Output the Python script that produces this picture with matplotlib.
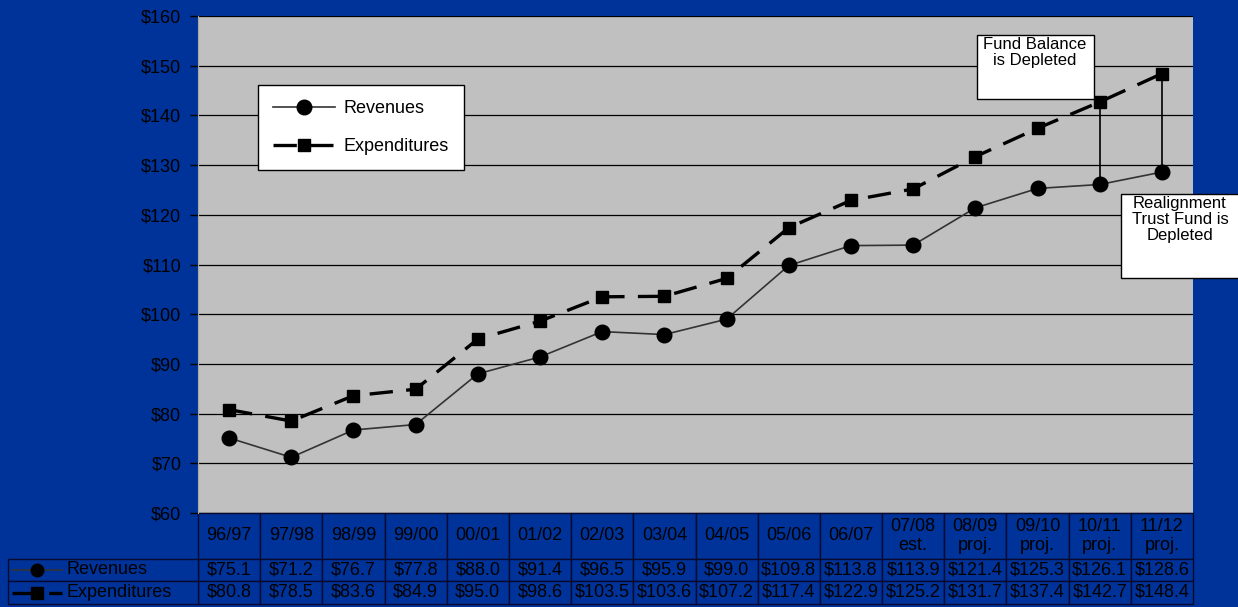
import matplotlib.pyplot as plt
import matplotlib.transforms as mtransforms
from matplotlib.patches import Rectangle
from matplotlib.lines import Line2D

plt.rcParams['font.family'] = ['Liberation Sans', 'DejaVu Sans']

years = ['96/97', '97/98', '98/99', '99/00', '00/01', '01/02', '02/03', '03/04',
         '04/05', '05/06', '06/07', '07/08\nest.', '08/09\nproj.', '09/10\nproj.',
         '10/11\nproj.', '11/12\nproj.']
revenues = [75.1, 71.2, 76.7, 77.8, 88.0, 91.4, 96.5, 95.9, 99.0, 109.8,
            113.8, 113.9, 121.4, 125.3, 126.1, 128.6]
expenditures = [80.8, 78.5, 83.6, 84.9, 95.0, 98.6, 103.5, 103.6, 107.2, 117.4,
                122.9, 125.2, 131.7, 137.4, 142.7, 148.4]
depleted_idx = [14, 15]

BLUE = '#003399'
W, H = 1238, 607
FS = 13
fig = plt.figure(figsize=(W / 100, H / 100), dpi=100, facecolor=BLUE)

ax = fig.add_axes([198 / W, 1 - 513 / H, (1193 - 198) / W, (513 - 16) / H])
ax.set_facecolor('#c0c0c0')

x = list(range(len(years)))
ax.plot(x, revenues, color='#333333', lw=1.2, marker='o', ms=10.5,
        mfc='black', mec='black', label='Revenues', zorder=3)
ax.plot(x, expenditures, color='black', lw=2.4, dashes=(7, 4), marker='s', ms=8,
        mfc='black', mec='black', label='Expenditures', zorder=3)
ax.vlines(depleted_idx, [revenues[i] for i in depleted_idx],
          [expenditures[i] for i in depleted_idx], colors='black', lw=1.2, zorder=2)

ax.set_xlim(-0.5, len(years) - 0.5)
ax.set_ylim(60, 160)
ax.set_yticks(range(60, 161, 10))
ax.set_yticklabels(['$%d' % v for v in range(60, 161, 10)], fontsize=FS)
ax.yaxis.grid(True, color='black', lw=0.9)
ax.set_axisbelow(True)
ax.set_xticks([])
ax.tick_params(axis='y', length=6, width=1, color='black', pad=6)
for s in ['top', 'right', 'bottom']:
    ax.spines[s].set_visible(False)
ax.spines['left'].set_color('#a8a8a8')

leg = ax.legend(loc='upper left', bbox_to_anchor=((258 - 198) / 995, 1 - (85 - 16) / 497),
                fontsize=FS, frameon=True, fancybox=False, edgecolor='black',
                framealpha=1, handlelength=3.4, handletextpad=0.5,
                labelspacing=1.15, borderpad=0.85, borderaxespad=0)
leg.get_frame().set_linewidth(1.0)

# data table below the plot
tr = mtransforms.blended_transform_factory(ax.transData, ax.transAxes)
px = 1 / 497
row_h = [46 * px, 22 * px, 23 * px]
tops = [0, -row_h[0], -row_h[0] - row_h[1]]
u = 1 / (995 / 16)
lab_left = -0.5 - 190 * u

for i, yr in enumerate(years):
    for r in range(3):
        ax.add_patch(Rectangle((i - 0.5, tops[r] - row_h[r]), 1, row_h[r], transform=tr,
                               facecolor=BLUE, edgecolor='#0a0a30', lw=1.0,
                               clip_on=False, zorder=1))
    ax.text(i, tops[0] - row_h[0] / 2, yr, transform=tr, ha='center', va='center',
            fontsize=FS, linespacing=1.2, clip_on=False)
    ax.text(i, tops[1] - row_h[1] / 2, '$%.1f' % revenues[i], transform=tr,
            ha='center', va='center', fontsize=FS, clip_on=False)
    ax.text(i, tops[2] - row_h[2] / 2, '$%.1f' % expenditures[i], transform=tr,
            ha='center', va='center', fontsize=FS, clip_on=False)

for r, (lab, style) in enumerate([('Revenues', 'rev'), ('Expenditures', 'exp')], start=1):
    ax.add_patch(Rectangle((lab_left, tops[r] - row_h[r]), -0.5 - lab_left, row_h[r],
                           transform=tr, facecolor=BLUE, edgecolor='#0a0a30', lw=1.0,
                           clip_on=False, zorder=1))
    yc = tops[r] - row_h[r] / 2
    x0, x1, xm = lab_left + 4 * u, lab_left + 54 * u, lab_left + 29 * u
    if style == 'rev':
        ax.add_line(Line2D([x0, x1], [yc, yc], transform=tr, color='#333333', lw=1.2,
                           clip_on=False))
        ax.add_line(Line2D([xm], [yc], transform=tr, marker='o', ms=9, color='black',
                           clip_on=False))
    else:
        ax.add_line(Line2D([x0, x1], [yc, yc], transform=tr, color='black', lw=2.4,
                           dashes=(7, 4), clip_on=False))
        ax.add_line(Line2D([xm], [yc], transform=tr, marker='s', ms=8, color='black',
                           clip_on=False))
    ax.text(lab_left + 58 * u, yc, lab, transform=tr, ha='left', va='center',
            fontsize=FS, clip_on=False)

# annotation boxes (figure pixel coordinates)
def fig_box(x0, y0, x1, y1):
    fig.patches.append(Rectangle((x0 / W, 1 - y1 / H), (x1 - x0) / W, (y1 - y0) / H,
                                 transform=fig.transFigure, facecolor='white',
                                 edgecolor='black', lw=1.0, zorder=5))

fig_box(977, 35, 1094, 99)
fig.text(1035 / W, 1 - 37 / H, 'Fund Balance\nis Depleted', ha='center', va='top',
         fontsize=12, linespacing=1.1, zorder=6)
fig_box(1121, 194, 1240, 278)
fig.text(1180 / W, 1 - 196 / H, 'Realignment\nTrust Fund is\nDepleted', ha='center',
         va='top', fontsize=12, linespacing=1.1, zorder=6)

fig.savefig('out.png', dpi=100, facecolor=BLUE)
